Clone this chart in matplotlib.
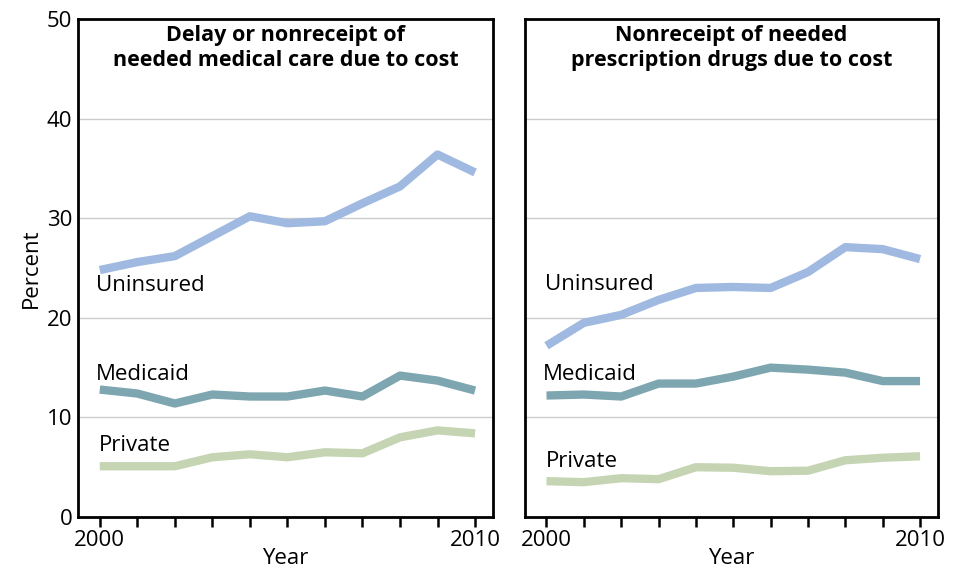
import numpy as np
import matplotlib.pyplot as plt

plt.rcParams['font.family'] = ['Open Sans', 'DejaVu Sans']

years = np.arange(2000, 2011)

# Delay or nonreceipt of needed medical care due to cost
care_uninsured = [24.8, 25.6, 26.2, 28.2, 30.2, 29.5, 29.7, 31.5, 33.2, 36.4, 34.6]
care_medicaid = [12.8, 12.4, 11.4, 12.3, 12.1, 12.1, 12.7, 12.1, 14.2, 13.7, 12.7]
care_private = [5.1, 5.1, 5.1, 6.0, 6.3, 6.0, 6.5, 6.4, 8.0, 8.7, 8.4]

# Nonreceipt of needed prescription drugs due to cost
drug_uninsured = [17.2, 19.5, 20.3, 21.8, 23.0, 23.1, 23.0, 24.6, 27.1, 26.9, 25.9]
drug_medicaid = [12.2, 12.3, 12.1, 13.4, 13.4, 14.1, 15.0, 14.8, 14.5, 13.65, 13.65]
drug_private = [3.6, 3.5, 3.9, 3.8, 5.0, 4.95, 4.6, 4.65, 5.7, 5.95, 6.1]

titles = ['Delay or nonreceipt of\nneeded medical care due to cost',
          'Nonreceipt of needed\nprescription drugs due to cost']
series_names = ['Uninsured', 'Medicaid', 'Private']
colors = ['#9fb9e1', '#7ea6b0', '#c5d5b4']

# label positions (x in years, y in percent)
label_pos = [
    [(1999.89, 23.2), (1999.89, 14.3), (1999.97, 7.2)],
    [(1999.97, 23.3), (1999.9, 14.3), (1999.97, 5.6)],
]

fig = plt.figure(figsize=(9.63, 5.73), dpi=100)
ax1 = fig.add_axes([0.081, 0.0977, 0.431, 0.869])
ax2 = fig.add_axes([0.545, 0.0977, 0.429, 0.869])

panels = [(ax1, [care_uninsured, care_medicaid, care_private]),
          (ax2, [drug_uninsured, drug_medicaid, drug_private])]

for i, (ax, data) in enumerate(panels):
    for vals, col in zip(data, colors):
        ax.plot(years, vals, color=col, lw=6, solid_capstyle='butt', zorder=3)
    for name, (lx, ly) in zip(series_names, label_pos[i]):
        ax.text(lx, ly, name, fontsize=16, ha='left', va='center')
    ax.set_xlim(1999.42, 2010.48)
    ax.set_ylim(0, 50)
    ax.set_yticks([0, 10, 20, 30, 40, 50])
    ax.yaxis.grid(True, color='#cccccc', lw=1)
    ax.set_axisbelow(True)
    ax.set_xticks(years)
    ax.set_xticklabels(['2000'] + [''] * 9 + ['2010'])
    ax.tick_params(axis='x', direction='out', length=7, width=1.8, labelsize=16, pad=2)
    ax.tick_params(axis='y', length=0, labelsize=16, pad=4)
    for s in ax.spines.values():
        s.set_linewidth(2)
    ax.set_xlabel('Year', fontsize=16, labelpad=-2)
    ax.text(0.5, 0.988, titles[i], transform=ax.transAxes, ha='center', va='top',
            fontsize=15.5, fontweight='bold', linespacing=1.22)

ax1.set_ylabel('Percent', fontsize=16, labelpad=4)
ax2.tick_params(axis='y', labelleft=False)

fig.savefig('out.png', dpi=100)
